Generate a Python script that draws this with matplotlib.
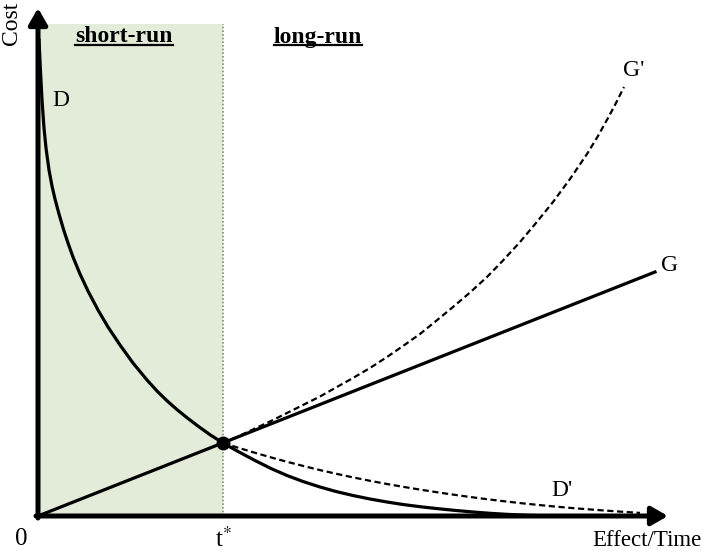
import numpy as np
import matplotlib
matplotlib.use('Agg')
import matplotlib.pyplot as plt
from matplotlib.lines import Line2D

plt.rcParams['font.family'] = ['Liberation Serif', 'DejaVu Serif']
plt.rcParams['mathtext.fontset'] = 'stix'

# curve D (short-run cost, falls over time)
d_x = [0.01, 0.02, 0.03, 0.04, 0.06, 0.08, 0.11, 0.14, 0.17, 0.21, 0.26, 0.30, 0.35,
       0.42, 0.50, 0.60, 0.70, 0.82, 0.95, 1.09, 1.19, 1.29, 1.39, 1.49, 1.60, 1.72,
       1.85, 2.01, 2.17, 2.33, 2.49, 2.65, 2.82, 2.98, 3.15, 3.32, 3.49, 3.65, 3.82,
       4.00, 4.17, 4.35, 4.52, 4.70, 4.87, 5.05, 5.22]
d_y = [4.76, 4.55, 4.35, 4.16, 3.88, 3.68, 3.46, 3.30, 3.17, 3.02, 2.85, 2.73, 2.59,
       2.42, 2.25, 2.06, 1.89, 1.71, 1.53, 1.36, 1.25, 1.152, 1.064, 0.983, 0.899, 0.813,
       0.73, 0.64, 0.555, 0.475, 0.405, 0.345, 0.29, 0.245, 0.205, 0.17, 0.14, 0.115, 0.093,
       0.073, 0.056, 0.04, 0.027, 0.016, 0.008, 0.003, 0.0]

# curve D' (dashed)
dp_x = [1.85, 2.01, 2.17, 2.33, 2.49, 2.65, 2.82, 2.98, 3.15, 3.32, 3.49, 3.65, 3.82,
        4.02, 4.22, 4.42, 4.62, 4.87, 5.12, 5.37, 5.62, 5.82, 6.02]
dp_y = [0.73, 0.68, 0.632, 0.586, 0.542, 0.501, 0.459, 0.423, 0.386, 0.352, 0.320, 0.292, 0.264,
        0.233, 0.204, 0.177, 0.152, 0.124, 0.099, 0.077, 0.058, 0.044, 0.031]

# line G
g_x = [0.0, 6.17]
g_y = [0.0, 2.44]

# curve G' (dashed)
gp_x = [1.85, 2.01, 2.17, 2.33, 2.49, 2.65, 2.82, 2.98, 3.15, 3.32, 3.49, 3.65, 3.82,
        3.98, 4.15, 4.32, 4.49, 4.65, 4.82, 4.98, 5.15, 5.32, 5.49, 5.60, 5.70, 5.78, 5.86]
gp_y = [0.73, 0.80, 0.875, 0.95, 1.03, 1.11, 1.195, 1.285, 1.38, 1.48, 1.59, 1.70, 1.82,
        1.95, 2.09, 2.235, 2.39, 2.555, 2.74, 2.93, 3.14, 3.37, 3.62, 3.80, 3.98, 4.13, 4.29]

t_star = 1.85
t_cost = 0.73
shade_top = 4.92

fig = plt.figure(figsize=(7.08, 5.51), dpi=100)
ax = fig.add_axes([38/708, 35/551, 630/708, 508/551])
ax.set_xlim(0, 6.30)
ax.set_ylim(0, 5.08)
ax.axis('off')

# short-run shading and t* divider
ax.fill_between([0, t_star], 0, shade_top, color='#e2ecd9', lw=0, zorder=0)
ax.plot([t_star, t_star], [0, shade_top], color='#888888', lw=1.2, ls=(0, (1, 1.2)), zorder=1)

ax.plot(d_x, d_y, color='k', lw=2.3, solid_joinstyle='round', clip_on=False, zorder=3)
ax.plot(g_x, g_y, color='k', lw=2.3, clip_on=False, zorder=3)
ax.plot(dp_x, dp_y, color='k', lw=1.6, ls=(0, (2.8, 1.6)), clip_on=False, zorder=3)
ax.plot(gp_x, gp_y, color='k', lw=1.6, ls=(0, (2.8, 1.6)), clip_on=False, zorder=3)
ax.plot([t_star], [t_cost], 'o', color='k', ms=9, zorder=4)

# axes with arrows
arr = dict(arrowstyle='-|>,head_length=0.7,head_width=0.4', lw=3.6, color='k',
           shrinkA=0, shrinkB=0, mutation_scale=14)
ax.annotate('', xy=(6.30, 0), xytext=(-0.02, 0), arrowprops=arr, annotation_clip=False, zorder=5)
ax.annotate('', xy=(0, 5.08), xytext=(0, -0.02), arrowprops=arr, annotation_clip=False, zorder=5)

# labels
ax.text(-0.27, 4.93, 'Cost', rotation=90, ha='center', va='center', fontsize=17)
ax.text(-0.17, -0.23, '0', ha='center', va='center', fontsize=18)
ax.text(t_star, -0.23, r't$^{*}$', ha='center', va='center', fontsize=18)
ax.text(6.09, -0.25, 'Effect/Time', ha='center', va='center', fontsize=16.5)
ax.text(0.23, 4.16, 'D', ha='center', va='center', fontsize=17)
ax.text(5.96, 4.46, "G'", ha='center', va='center', fontsize=17)
ax.text(6.32, 2.51, 'G', ha='center', va='center', fontsize=17)
ax.text(5.24, 0.26, "D'", ha='center', va='center', fontsize=17)

t1 = ax.text(0.86, 4.79, 'short-run', ha='center', va='center', fontsize=17, fontweight='bold')
t2 = ax.text(2.80, 4.79, 'long-run', ha='center', va='center', fontsize=17, fontweight='bold')

# underline the two headings
fig.canvas.draw()
r = fig.canvas.get_renderer()
for t in (t1, t2):
    bb = t.get_window_extent(r)
    x0, x1 = bb.x0 / fig.bbox.width, bb.x1 / fig.bbox.width
    yl = (bb.y0 + 3) / fig.bbox.height
    fig.add_artist(Line2D([x0, x1], [yl, yl], color='k', lw=1.6))

fig.savefig('out.png', dpi=100)
